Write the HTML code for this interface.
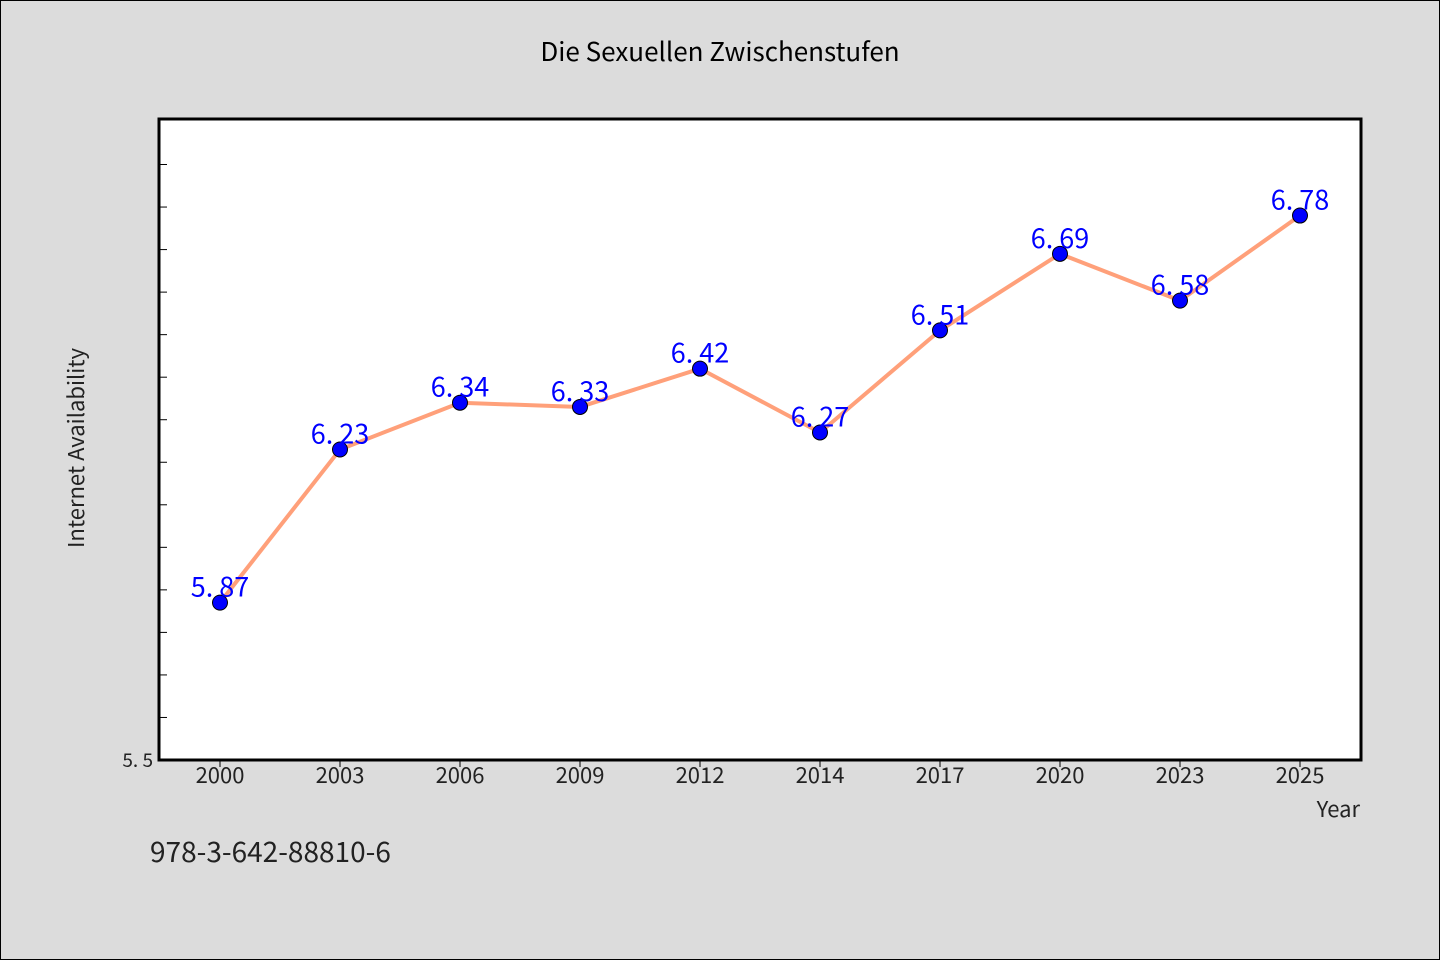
<!DOCTYPE html>
<html><head><meta charset="utf-8"><style>
html,body{margin:0;padding:0;background:#dcdcdc;}
svg{display:block;font-family:"WenQuanYi Zen Hei Mono","WenQuanYi Zen Hei","Noto Sans CJK SC",monospace;}
</style></head><body>
<svg width="1440" height="960">
<rect x="0.5" y="0.5" width="1439" height="959" fill="#dcdcdc" stroke="#000"/>
<text x="720" y="61" text-anchor="middle" font-size="26" fill="#000">Die Sexuellen Zwischenstufen</text>
<rect x="159" y="119" width="1202" height="641" fill="#fff"/>
<g id="yticks"></g><g id="xticks"></g>
<path id="line" fill="none" stroke="#ffa07a" stroke-width="4"/>
<g id="points"></g>
<rect x="159" y="119" width="1202" height="641" fill="none" stroke="#000" stroke-width="3"/>
<text x="84" y="448" text-anchor="middle" font-size="22" fill="#222" transform="rotate(-90 84 448)">Internet Availability</text>
<text x="1360" y="817" text-anchor="end" font-size="22" fill="#222">Year</text>
<text x="150" y="862" font-size="28" fill="#222">978-3-642-88810-6</text>
</svg>
<script>
const categories=["2000","2003","2006","2009","2012","2014","2017","2020","2023","2025"];
const values=[5.87,6.23,6.34,6.33,6.42,6.27,6.51,6.69,6.58,6.78];
const yTickValues=[5.5,5.6,5.7,5.8,5.9,6.0,6.1,6.2,6.3,6.4,6.5,6.6,6.7,6.8,6.9];
const yTickLabels=["5.5"];
const NS="http://www.w3.org/2000/svg";
const yMin=5.5,yMax=7.007,yTop=119,yBot=760;
function ys(v){return yBot-(v-yMin)/(yMax-yMin)*(yBot-yTop);}
function xs(i){return 220+i*120;}
function mk(t,a){const e=document.createElementNS(NS,t);for(const k in a)e.setAttribute(k,a[k]);return e;}
const yt=document.getElementById('yticks');
yTickValues.forEach((v)=>{
 const l=mk('line',{x1:159,x2:167,y1:ys(v),y2:ys(v),stroke:'#000','stroke-width':1});
 
 
 yt.appendChild(l);
});
yTickLabels.forEach(s=>{
 const t=mk('text',{x:153,y:ys(parseFloat(s))+7,'text-anchor':'end','font-size':19,fill:'#222'});
 t.textContent=s.replace('.','. ');
 
 
 yt.appendChild(t);
});
const xt=document.getElementById('xticks');
categories.forEach((c,i)=>{
 const l=mk('line',{x1:xs(i),x2:xs(i),y1:760,y2:767,stroke:'#000','stroke-width':1});
 
 
 xt.appendChild(l);
 const t=mk('text',{x:xs(i),y:783,'text-anchor':'middle','font-size':22,fill:'#222'});
 t.textContent=c;
 
 
 xt.appendChild(t);
});
document.getElementById('line').setAttribute('d',values.map((v,i)=>(i?'L':'M')+xs(i)+','+ys(v)).join(''));
const pg=document.getElementById('points');
values.forEach((v,i)=>{
 const c=mk('circle',{cx:xs(i),cy:ys(v),r:7.5,fill:'#0000ff',stroke:'#000','stroke-width':1});
 
 
 pg.appendChild(c);
 const t=mk('text',{x:xs(i),y:ys(v)-6,'text-anchor':'middle','font-size':27,fill:'#0000ff'});
 t.textContent=v.toFixed(2).replace('.','. ');
 
 
 pg.appendChild(t);
});
</script>
</body></html>
